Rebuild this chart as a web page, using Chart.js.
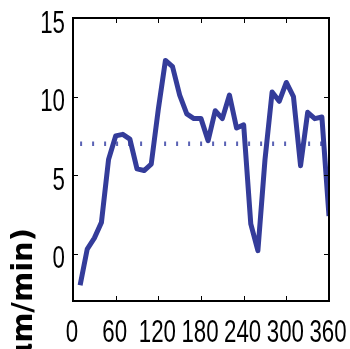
<!DOCTYPE html>
<html>
<head>
    <title>Rate</title>
    <script src="https://cdn.jsdelivr.net/npm/chart.js"></script>
    <style>
        body { margin: 0; background: #fff; }
        #wrap { width: 350px; height: 349px; }
    </style>
</head>
<body>
    <div id="wrap"><canvas id="rateChart" width="350" height="349"></canvas></div>

    <script>
        // angle (deg) and measured rate
        const angles = [10, 20, 30, 40, 50, 60, 70, 80, 90, 100, 110, 120,
                        130, 140, 150, 160, 170, 180, 190, 200, 210, 220, 230, 240,
                        250, 260, 270, 280, 290, 300, 310, 320, 330, 340, 350, 360];
        const rates = [-2.0, 0.3, 1.0, 2.0, 6.0, 7.5, 7.6, 7.3, 5.4, 5.3, 5.7, 9.2,
                       12.3, 11.9, 10.1, 8.9, 8.6, 8.6, 7.2, 9.1, 8.6, 10.1, 8.0, 8.2,
                       1.9, 0.2, 6.0, 10.3, 9.7, 10.9, 10.0, 5.6, 9.0, 8.6, 8.7, 2.4];
        // mean level (dotted)
        const meanX = [10, 360];
        const meanY = [7, 7];

        const xTicks = [0, 60, 120, 180, 240, 300, 360];
        const yTicks = [0, 5, 10, 15];
        const yTitle = 'Velocity (\u03bcm/min)';

        // frame, inward ticks, tick labels and y title (matlab look)
        const frame = {
            id: 'frame',
            afterDraw(chart) {
                const ctx = chart.ctx;
                const a = chart.chartArea;
                const xs = chart.scales.x, ys = chart.scales.y;
                ctx.save();
                ctx.strokeStyle = '#000';
                ctx.lineWidth = 2;
                ctx.strokeRect(a.left, a.top, a.right - a.left, a.bottom - a.top);

                ctx.lineWidth = 1;
                ctx.beginPath();
                xTicks.forEach(v => {
                    const px = Math.round(xs.getPixelForValue(v)) + 0.5;
                    ctx.moveTo(px, a.bottom); ctx.lineTo(px, a.bottom - 5);
                    ctx.moveTo(px, a.top); ctx.lineTo(px, a.top + 5);
                });
                yTicks.forEach(v => {
                    const py = Math.round(ys.getPixelForValue(v)) + 0.5;
                    ctx.moveTo(a.left, py); ctx.lineTo(a.left + 5, py);
                    ctx.moveTo(a.right, py); ctx.lineTo(a.right - 5, py);
                });
                ctx.stroke();

                // narrow tick labels
                ctx.fillStyle = '#000';
                ctx.font = '32px "Liberation Sans", Arial, sans-serif';
                ctx.textBaseline = 'alphabetic';
                const sx = 12.4 / ctx.measureText('0').width;
                xTicks.forEach(v => {
                    const px = xs.getPixelForValue(v) - 1;
                    ctx.save();
                    ctx.translate(px, 342);
                    ctx.scale(sx, 1);
                    ctx.textAlign = 'center';
                    ctx.fillText(String(v), 0, 0);
                    ctx.restore();
                });
                yTicks.forEach(v => {
                    const py = ys.getPixelForValue(v) + 14.5;
                    ctx.save();
                    ctx.translate(65, py);
                    ctx.scale(sx, 1);
                    ctx.textAlign = 'right';
                    ctx.fillText(String(v), 0, 0);
                    ctx.restore();
                });

                // y title, runs off the bottom like the original
                ctx.save();
                ctx.translate(32, 228);
                ctx.rotate(-Math.PI / 2);
                ctx.font = 'bold 29px "DejaVu Sans", sans-serif';
                ctx.textAlign = 'right';
                ctx.fillText(yTitle, 0, 0);
                ctx.restore();
                ctx.restore();
            }
        };

        const ctx = document.getElementById('rateChart').getContext('2d');
        new Chart(ctx, {
            type: 'line',
            data: {
                datasets: [{
                    data: angles.map((a, i) => ({ x: a, y: rates[i] })),
                    borderColor: '#343c9a',
                    borderWidth: 5,
                    borderJoinStyle: 'round',
                    pointRadius: 0,
                    tension: 0,
                    fill: false
                }, {
                    data: meanX.map((a, i) => ({ x: a, y: meanY[i] })),
                    borderColor: '#5a62b4',
                    borderWidth: 4.5,
                    borderDash: [2, 10],
                    pointRadius: 0,
                    fill: false
                }]
            },
            options: {
                responsive: false,
                animation: false,
                layout: { padding: { left: 73, right: 21, top: 18, bottom: 48 } },
                plugins: { legend: { display: false }, tooltip: { enabled: false } },
                scales: {
                    x: { type: 'linear', min: 0, max: 360, display: false },
                    y: { type: 'linear', min: -3, max: 15, display: false }
                }
            },
            plugins: [frame]
        });
    </script>
</body>
</html>
